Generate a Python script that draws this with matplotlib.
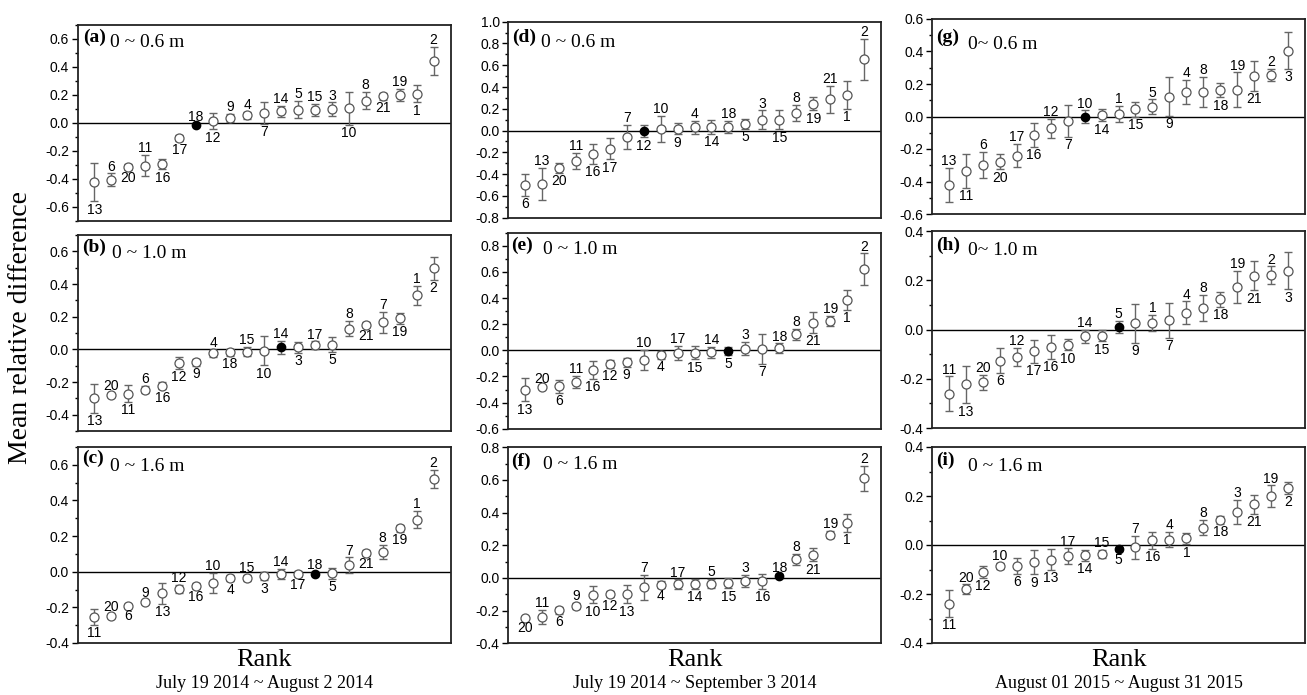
import numpy as np
import matplotlib
matplotlib.use('Agg')
import matplotlib.pyplot as plt
from matplotlib.ticker import MultipleLocator, FuncFormatter

plt.rcParams['font.family'] = ['Liberation Sans', 'DejaVu Sans']
plt.rcParams['axes.unicode_minus'] = False

# ── DATA (rank order, site id, mean relative difference, error half-width) ──
a_sites = [13, 6, 20, 11, 16, 17, 18, 12, 9, 4, 7, 14, 5, 15, 3, 10, 8, 21, 19, 1, 2]
a_mean = [-0.424, -0.405, -0.314, -0.305, -0.295, -0.107, -0.014, 0.012, 0.038, 0.055, 0.071,
          0.083, 0.095, 0.095, 0.098, 0.105, 0.160, 0.190, 0.202, 0.210, 0.445]
a_err = [0.135, 0.045, 0.019, 0.077, 0.036, 0.023, 0.010, 0.057, 0.029, 0.027, 0.078,
         0.040, 0.062, 0.042, 0.050, 0.120, 0.062, 0.026, 0.044, 0.062, 0.099]

b_sites = [13, 20, 11, 6, 16, 12, 9, 4, 18, 15, 10, 14, 3, 17, 5, 8, 21, 7, 19, 1, 2]
b_mean = [-0.300, -0.277, -0.271, -0.246, -0.222, -0.084, -0.080, -0.025, -0.018, -0.014, -0.008,
          0.012, 0.012, 0.025, 0.029, 0.127, 0.150, 0.166, 0.190, 0.330, 0.496]
b_err = [0.090, 0.012, 0.051, 0.023, 0.022, 0.036, 0.020, 0.021, 0.020, 0.029, 0.089,
         0.040, 0.033, 0.023, 0.045, 0.048, 0.016, 0.063, 0.034, 0.059, 0.069]

c_sites = [11, 20, 6, 9, 13, 12, 16, 10, 4, 15, 3, 14, 17, 18, 5, 7, 21, 8, 19, 1, 2]
c_mean = [-0.252, -0.247, -0.191, -0.168, -0.121, -0.097, -0.079, -0.064, -0.036, -0.034, -0.024,
          -0.013, -0.013, -0.011, -0.009, 0.037, 0.107, 0.112, 0.243, 0.293, 0.520]
c_err = [0.045, 0.010, 0.010, 0.012, 0.060, 0.021, 0.018, 0.057, 0.017, 0.018, 0.025,
         0.027, 0.017, 0.008, 0.031, 0.043, 0.016, 0.038, 0.019, 0.047, 0.050]

d_sites = [6, 13, 20, 11, 16, 17, 7, 12, 10, 9, 4, 14, 18, 5, 3, 15, 8, 19, 21, 1, 2]
d_mean = [-0.500, -0.490, -0.342, -0.281, -0.214, -0.165, -0.058, -0.003, 0.012, 0.018, 0.030,
          0.034, 0.034, 0.061, 0.100, 0.100, 0.162, 0.247, 0.287, 0.330, 0.653]
d_err = [0.100, 0.148, 0.046, 0.074, 0.089, 0.100, 0.113, 0.057, 0.120, 0.053, 0.058,
         0.061, 0.055, 0.046, 0.085, 0.089, 0.077, 0.061, 0.122, 0.130, 0.191]

e_sites = [13, 20, 6, 11, 16, 12, 9, 10, 4, 17, 15, 14, 5, 3, 7, 18, 8, 21, 19, 1, 2]
e_mean = [-0.302, -0.279, -0.277, -0.242, -0.151, -0.103, -0.093, -0.075, -0.035, -0.023, -0.018,
          -0.015, -0.008, 0.013, 0.013, 0.015, 0.121, 0.211, 0.224, 0.387, 0.621]
e_err = [0.088, 0.008, 0.047, 0.044, 0.066, 0.032, 0.035, 0.077, 0.028, 0.054, 0.050,
         0.041, 0.030, 0.052, 0.115, 0.038, 0.045, 0.079, 0.037, 0.076, 0.120]

f_sites = [20, 11, 6, 9, 10, 12, 13, 7, 4, 17, 14, 5, 15, 3, 16, 18, 8, 21, 19, 1, 2]
f_mean = [-0.245, -0.239, -0.198, -0.172, -0.102, -0.100, -0.098, -0.057, -0.041, -0.039, -0.037,
          -0.035, -0.033, -0.020, -0.020, 0.014, 0.115, 0.143, 0.266, 0.339, 0.609]
f_err = [0.007, 0.043, 0.022, 0.021, 0.054, 0.018, 0.058, 0.075, 0.021, 0.030, 0.029,
         0.029, 0.031, 0.037, 0.045, 0.008, 0.033, 0.041, 0.021, 0.055, 0.078]

g_sites = [13, 11, 6, 20, 17, 16, 12, 7, 10, 14, 1, 15, 5, 9, 4, 8, 18, 19, 21, 2, 3]
g_mean = [-0.420, -0.334, -0.297, -0.279, -0.240, -0.113, -0.072, -0.027, 0.000, 0.010, 0.016,
          0.045, 0.060, 0.123, 0.150, 0.152, 0.162, 0.164, 0.250, 0.256, 0.406]
g_err = [0.105, 0.105, 0.080, 0.046, 0.071, 0.074, 0.058, 0.098, 0.037, 0.039, 0.048,
         0.045, 0.045, 0.118, 0.073, 0.092, 0.043, 0.108, 0.092, 0.039, 0.114]

h_sites = [11, 13, 20, 6, 12, 17, 16, 10, 14, 15, 5, 9, 1, 7, 4, 8, 18, 19, 21, 2, 3]
h_mean = [-0.261, -0.223, -0.214, -0.126, -0.112, -0.088, -0.070, -0.061, -0.028, -0.026, 0.009,
          0.026, 0.027, 0.038, 0.068, 0.088, 0.122, 0.173, 0.219, 0.220, 0.239]
h_err = [0.071, 0.076, 0.031, 0.051, 0.037, 0.047, 0.048, 0.024, 0.026, 0.022, 0.025,
         0.079, 0.032, 0.071, 0.046, 0.053, 0.029, 0.066, 0.060, 0.036, 0.075]

i_sites = [11, 20, 12, 10, 6, 9, 13, 17, 14, 15, 5, 7, 16, 4, 1, 8, 18, 3, 21, 19, 2]
i_mean = [-0.239, -0.180, -0.109, -0.086, -0.086, -0.069, -0.060, -0.046, -0.042, -0.037, -0.018,
          -0.010, 0.019, 0.022, 0.027, 0.071, 0.102, 0.135, 0.166, 0.200, 0.234]
i_err = [0.054, 0.019, 0.025, 0.012, 0.032, 0.050, 0.042, 0.032, 0.022, 0.017, 0.008,
         0.047, 0.035, 0.030, 0.024, 0.030, 0.016, 0.050, 0.038, 0.043, 0.025]

# reference (filled) site per panel
ref_site = {'a': 18, 'b': 14, 'c': 18, 'd': 12, 'e': 5, 'f': 18, 'g': 10, 'h': 5, 'i': 5}
depth = {'a': '0 ~ 0.6 m', 'b': '0 ~ 1.0 m', 'c': '0 ~ 1.6 m',
         'd': '0 ~ 0.6 m', 'e': '0 ~ 1.0 m', 'f': '0 ~ 1.6 m',
         'g': '0~ 0.6 m', 'h': '0~ 1.0 m', 'i': '0 ~ 1.6 m'}
periods = ['July 19 2014 ~ August 2 2014',
           'July 19 2014 ~ September 3 2014',
           'August 01 2015 ~ August 31 2015']

# label side per point: A = above, B = below
side = {'a': 'BABABBABAABAAAABABABA', 'b': 'BABABBBABABABABABABAB',
        'c': 'BABABABABABABABABABAA', 'd': 'BABABBABABABABABABABA',
        'e': 'BABABBBABABABABAABABA', 'f': 'BABABBBABABABABAABABA',
        'g': 'ABABABABABABABAABABAB', 'h': 'ABABABBBABABABAABABAB',
        'i': 'BABABBBABABABABABABAB'}

data = {'a': (a_sites, a_mean, a_err), 'b': (b_sites, b_mean, b_err),
        'c': (c_sites, c_mean, c_err), 'd': (d_sites, d_mean, d_err),
        'e': (e_sites, e_mean, e_err), 'f': (f_sites, f_mean, f_err),
        'g': (g_sites, g_mean, g_err), 'h': (h_sites, h_mean, h_err),
        'i': (i_sites, i_mean, i_err)}

ylims = {'a': (-0.7, 0.7), 'b': (-0.5, 0.7), 'c': (-0.4, 0.7),
         'd': (-0.8, 1.0), 'e': (-0.6, 0.9), 'f': (-0.4, 0.8),
         'g': (-0.6, 0.6), 'h': (-0.4, 0.4), 'i': (-0.4, 0.4)}

# ── LAYOUT (pixels) ──────────────────────────────────────────────────────────
W, H = 1307, 695
col_left = [77.5, 508, 932]
ax_w = 373
rows = {'a': (25, 221), 'b': (235, 431), 'c': (447, 643),
        'd': (21.7, 217.7), 'e': (232.7, 428.7), 'f': (447.3, 643.3),
        'g': (19, 214), 'h': (231, 428), 'i': (447, 643)}
# letter offset, depth-text offset (px from axes top-left)
txt_off = {'a': ((6, 4), (33, 9)), 'b': ((5, 4), (34, 10)), 'c': ((5, 3), (33, 11)),
           'd': ((4, 7), (33, 12)), 'e': ((3, 4), (35, 8)), 'f': ((3, 5), (35, 9)),
           'g': ((4.5, 10), (36, 17)), 'h': ((4, 6), (36, 11)), 'i': ((4, 5), (36, 11))}

fig = plt.figure(figsize=(W / 100, H / 100), dpi=100)

fmt = FuncFormatter(lambda v, p: '0.0' if abs(v) < 1e-9 else f'{v:.1f}')
edge = '#555555'

for ci, col in enumerate(['abc', 'def', 'ghi']):
    for key in col:
        top, bot = rows[key]
        ax = fig.add_axes([col_left[ci] / W, 1 - bot / H, ax_w / W, (bot - top) / H])
        sites, mean, err = (np.array(v) for v in data[key])
        x = np.arange(1, len(sites) + 1)
        ref = sites == ref_site[key]

        ax.axhline(0, color='black', lw=1.0, zorder=1)
        ax.errorbar(x, mean, yerr=err, fmt='none', ecolor='#666666', elinewidth=1.0,
                    capsize=3, capthick=1.0, zorder=2)
        ax.plot(x[~ref], mean[~ref], 'o', mfc='white', mec=edge, ms=6.5, mew=0.9, zorder=3)
        ax.plot(x[ref], mean[ref], 'o', mfc='black', mec='black', ms=6, zorder=3)

        for xi, m, e, s, sd in zip(x, mean, err, sites, side[key]):
            if sd == 'A':
                ax.annotate(str(s), (xi, m + e), xytext=(0, 2), textcoords='offset points',
                            ha='center', va='baseline', fontsize=10)
            else:
                ax.annotate(str(s), (xi, m - e), xytext=(0, -1), textcoords='offset points',
                            ha='center', va='top', fontsize=10)

        (lx, ly), (dx, dy) = txt_off[key]
        ax.annotate(f'({key})', (0, 1), xycoords='axes fraction', xytext=(lx, -ly),
                    textcoords='offset pixels', va='top', ha='left',
                    family='Liberation Serif', fontweight='bold', fontsize=14)
        ax.annotate(depth[key], (0, 1), xycoords='axes fraction', xytext=(dx, -dy),
                    textcoords='offset pixels', va='top', ha='left',
                    family='Liberation Serif', fontsize=14)

        ax.set_xlim(0, 22)
        ax.set_ylim(*ylims[key])
        ax.set_xticks([])
        ax.yaxis.set_major_locator(MultipleLocator(0.2))
        ax.yaxis.set_minor_locator(MultipleLocator(0.1))
        ax.yaxis.set_major_formatter(fmt)
        ax.tick_params(axis='y', which='major', direction='out', length=4, width=1,
                       labelsize=10, pad=2)
        ax.tick_params(axis='y', which='minor', direction='out', length=2.5, width=1)
        for sp in ax.spines.values():
            sp.set_linewidth(1.3)
            sp.set_color('#222222')

    cx = (col_left[ci] + ax_w / 2) / W
    fig.text(cx, 1 - 660 / H, 'Rank', ha='center', va='center',
             family='Liberation Serif', fontsize=19)
    fig.text(cx, 1 - 684 / H, periods[ci], ha='center', va='center',
             family='Liberation Serif', fontsize=13)

fig.text(21 / W, 1 - 327 / H, 'Mean relative difference', rotation=90,
         ha='center', va='center', family='Liberation Serif', fontsize=20)

fig.savefig('out.png', dpi=100)
